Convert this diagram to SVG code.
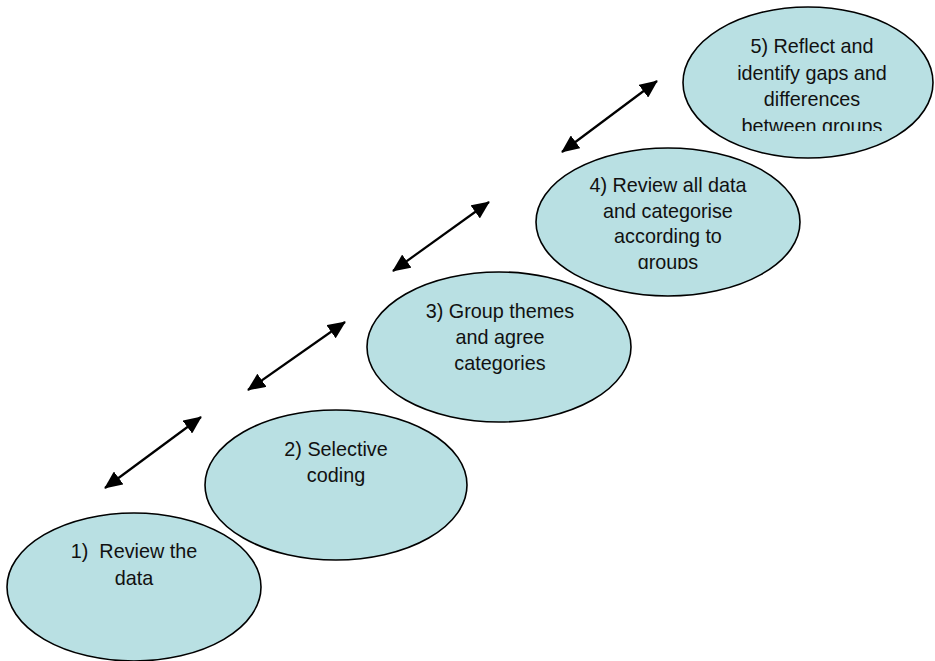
<svg xmlns="http://www.w3.org/2000/svg" width="935" height="661" viewBox="0 0 935 661">
<style>
.node ellipse{fill:#b9e0e3;stroke:#000;stroke-width:1.6}
.node text{font-family:"Liberation Sans",Arial,sans-serif;font-size:19.8px;fill:#111;text-anchor:middle}
.conn line{stroke:#000;stroke-width:2.2;marker-start:url(#ah);marker-end:url(#ah)}
</style>
<defs>
<marker id="ah" markerUnits="userSpaceOnUse" viewBox="0 0 18 16" refX="17" refY="8" markerWidth="18" markerHeight="16" orient="auto-start-reverse">
<path d="M0,0 L18,8 L0,16 Z" fill="#000"/>
</marker>
<clipPath id="c5"><rect x="680" y="0" width="255" height="131"/></clipPath>
<clipPath id="c4"><rect x="530" y="140" width="280" height="129"/></clipPath>
</defs>
<rect width="935" height="661" fill="#fff"/>
<g id="n1" class="node">
<ellipse cx="134" cy="587" rx="127" ry="74"/>
<text x="134" y="558" xml:space="preserve">1)  Review the</text>
<text x="134" y="585">data</text>
</g>
<g id="n2" class="node">
<ellipse cx="336" cy="485" rx="131" ry="75"/>
<text x="336" y="456">2) Selective</text>
<text x="336" y="482">coding</text>
</g>
<g id="n3" class="node">
<ellipse cx="499" cy="347" rx="132" ry="75"/>
<text x="500" y="318">3) Group themes</text>
<text x="500" y="344">and agree</text>
<text x="500" y="370">categories</text>
</g>
<g id="n4" class="node">
<ellipse cx="668" cy="222" rx="132" ry="74"/>
<g clip-path="url(#c4)">
<text x="668" y="192">4) Review all data</text>
<text x="668" y="217.5">and categorise</text>
<text x="668" y="243">according to</text>
<text x="668" y="268.5">groups</text>
</g>
</g>
<g id="n5" class="node">
<ellipse cx="808" cy="82.5" rx="125" ry="75.5"/>
<g clip-path="url(#c5)">
<text x="812" y="53">5) Reflect and</text>
<text x="812" y="79.5">identify gaps and</text>
<text x="812" y="106">differences</text>
<text x="812" y="132.5">between groups</text>
</g>
</g>
<g id="connectors" class="conn">
<line x1="105" y1="488" x2="201" y2="417"/>
<line x1="248" y1="390" x2="345" y2="322"/>
<line x1="393" y1="271" x2="489" y2="202"/>
<line x1="562" y1="152" x2="657" y2="81"/>
</g>
</svg>
